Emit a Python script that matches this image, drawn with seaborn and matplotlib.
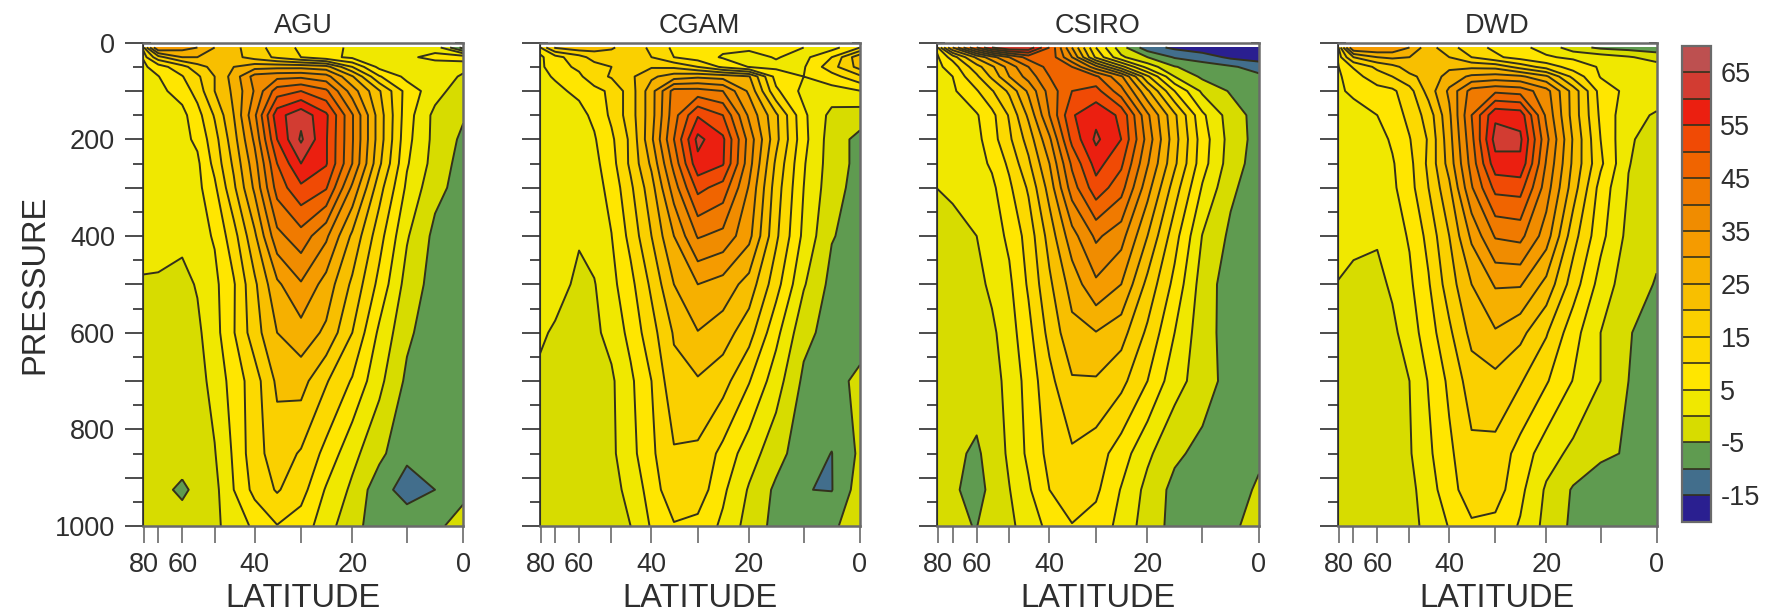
import numpy as np
import matplotlib
matplotlib.use("Agg")
import matplotlib.pyplot as plt
import seaborn as sns

sns.set_style("ticks")
plt.rcParams["font.family"] = ["Liberation Sans", "DejaVu Sans"]
plt.rcParams["axes.unicode_minus"] = False

ink = "#2e2e2e"
frame = "#6a6a6a"
line_col = "#33311c"

lats = [0, 5, 10, 15, 20, 25, 30, 35, 40, 45, 50, 55, 60, 70, 82]
pressures = [10, 30, 50, 70, 100, 150, 200, 250, 300, 400, 500, 600, 700, 850, 925, 1000]
levels = list(range(-20, 75, 5))
colors = ["#2a1f90", "#426e8c", "#5f9b50", "#d7dc00", "#f0e800", "#ffe600", "#fcd900",
          "#fad000", "#f8bf00", "#f6b000", "#f59b00", "#f08c00", "#f07a00", "#f06400",
          "#f04a05", "#eb1f10", "#d23c32", "#bd5050"]

panel_names = ["AGU", "CGAM", "CSIRO", "DWD"]
panel_lefts = [142.7, 539.6, 937.0, 1338.0]
panel_rights = [463.3, 860.0, 1259.0, 1656.6]

agu = [
    [-12, 3, 3.5, 4, 4.5, 6, 9, 13, 17, 21.5, 25, 30, 32, 35, 10],
    [8, 6.5, 4, 3.5, 4, 6.5, 10, 14, 18, 21.5, 23, 25, 25, 18, 5],
    [1, 2, 2.5, 3.5, 15, 27, 28.5, 28.5, 28, 25, 21.5, 18, 13, 7.5, 3],
    [-0.5, 2, 3.5, 10.5, 25.5, 37, 39, 38.5, 37, 27, 20, 14, 9.7, 4.8, 4],
    [-3, 2, 8, 20.5, 32.5, 46, 50, 47.5, 35.5, 26, 20, 12, 7, 3.5, 3.5],
    [-4.5, -1.4, 7.2, 22.5, 40.5, 56, 63.5, 58, 39, 25, 15.5, 8, 3.5, 3.5, 3],
    [-6, -1.5, 6.5, 22.5, 40.5, 55.5, 65.8, 55, 36, 23, 13, 6, 3.5, 3.5, 3.5],
    [-7, -2, 5.5, 21, 40, 55.5, 60, 50, 33, 21, 11.5, 4, 2.5, 3, 3],
    [-7, -3.5, 4, 17, 34, 50.5, 54, 47, 31, 19, 9, 3.5, 1.5, 2.5, 3],
    [-8, -6.3, 0.5, 12, 24, 36, 43, 38.5, 24, 13, 5.5, 3, 1.2, 1.5, 2],
    [-7.5, -7, -2, 8.5, 19, 28, 34.5, 29, 19, 9.5, 3.7, 0.4, -1.5, -0.5, -0.5],
    [-8, -8, -4, 4, 15, 24, 28, 25, 17.7, 9.7, 3, -1, -2.5, -3, -2.5],
    [-8, -8, -6, 1.3, 9.5, 15.5, 22, 21, 12.7, 7, 1.7, -2, -3, -3, -2.5],
    [-7.5, -9, -9, -3.7, 1.5, 8.5, 14.5, 17.5, 13, 5.7, -0.3, -2, -3, -3, -2.5],
    [-6, -10, -12, -8, -1, 4.5, 12, 15.5, 11.5, 5, -1.5, -4, -5.8, -3.5, -3],
    [-3.5, -5.8, -7, -6.5, -4, 2.5, 7.5, 9.8, 6, 2, -1, -2.5, -3, -3, -2.5],
]

cgam = [
    [10, 3, 5, 5.5, 5.8, 6, 7, 9, 14, 18, 20.5, 22, 23, 20.5, 8],
    [24, 10, 3.5, 5.3, 3.5, 4.5, 7.5, 10, 15, 16.5, 18, 17, 13, 8, 3],
    [22, 13, 4.5, 4, 4.8, 9, 15, 19, 19.5, 18, 15, 13, 11, 7.5, 3],
    [14, 8, 5, 8, 25.5, 28, 29, 27.5, 24, 19, 15.5, 13, 9, 5.5, 3],
    [4.8, 3, 3.5, 11, 29, 40, 42, 42, 28, 17.5, 11, 8.4, 6, 3.8, 3],
    [-2.5, -1.5, 6, 21, 34, 50, 54.5, 43, 28, 17.5, 11, 6, 3.5, 3, 3],
    [-6.5, -2.5, 6.5, 21.5, 38, 56, 61.5, 45, 29, 16, 9, 4.5, 2.5, 2.5, 3],
    [-6.5, -2.5, 5.5, 19, 37, 55.5, 58.5, 41.7, 26, 16, 8, 3.5, 2, 2, 3],
    [-7, -3, 5, 17.5, 34.5, 48, 51.5, 37.5, 23, 14, 6.5, 3, 2, 2, 3],
    [-7, -4.7, 3.8, 16, 31.5, 38.5, 40.5, 30, 20, 11.5, 4.9, 2, 0.3, 1.8, 2.5],
    [-7, -6.5, 0.5, 12, 23, 28, 30, 25, 16, 8.5, 3.5, -0.3, -0.7, 1.5, 2.5],
    [-7, -7, -3.5, 6.5, 17, 22.5, 24.8, 20.5, 13, 6.5, 1.5, -1, -1.5, -0.5, 1],
    [-4, -6.5, -6, 2.3, 10.3, 17, 19.5, 18.5, 10, 4, -0.8, -2.5, -2.8, -2, -1],
    [-4, -10.1, -8, -3, 2.3, 8.5, 14, 14.5, 9, 3.2, -1, -2.8, -3, -3, -3],
    [-2.5, -10.2, -9.9, -6, -0.5, 6, 13, 14, 7, 1.7, -2, -3, -3.5, -3, -3],
    [-3.5, -5.5, -7, -6.5, -2, 4, 8.5, 9.5, 5.5, 0, -2.5, -3, -3, -3, -3],
]

csiro = [
    [-19.5, -19, -18, -16, -13, -3, 10, 30, 50, 64, 65, 60, 50, 30, 6],
    [-17.5, -16, -12.5, -10.5, -5, 1, 14, 35, 49, 47, 40, 33, 26, 12, 3],
    [-12, -9.3, -7.5, -4.7, 3, 17, 32, 45, 47, 40, 32, 24, 18, 7, 3],
    [-9, -8, -6, 0, 16, 36, 46, 47, 45, 37, 30, 21, 14, 5, 3],
    [-8, -5.5, -1, 10, 26, 42, 52, 50, 42, 31, 21, 14.5, 9.5, 4, 3],
    [-7, -2.5, 6, 21, 36, 54, 58.5, 54.5, 40, 26, 15.5, 8.5, 4.5, 3.5, 3],
    [-7, -2, 7.5, 22, 38, 55, 61, 51.5, 34, 22, 14, 7.8, 3.5, 3, 2],
    [-7.5, -2.5, 7, 21, 35.5, 51, 57, 46, 30, 19, 11, 5.8, 3, 2.5, 1.5],
    [-8, -4, 4.5, 17.5, 32, 47, 53, 42.5, 27, 15.7, 9, 3.8, 1.5, 0.5, 0],
    [-8, -6, -0.2, 12, 25, 37, 41, 33, 22, 12, 6, 2.5, 0, -1, -1],
    [-8, -7.5, -2.3, 8.5, 18.5, 30, 34, 27, 19, 10.7, 4, 1, -1.5, -2, -1],
    [-8, -7, -3, 5, 14, 22, 24.8, 23.5, 16.5, 8.5, 2.7, -1, -2.5, -2, -2],
    [-7.5, -7, -2.5, 2, 10, 16.5, 19.5, 19.5, 13.5, 7, 1.3, -1.7, -3.5, -3, -3],
    [-6, -7, -6.5, -4, 1, 7.5, 12.5, 14.3, 11.5, 6, 1, -3.8, -5.5, -4.2, -4],
    [-4.2, -7.5, -8, -6.5, -1.5, 4.7, 11, 13.5, 10, 4.3, -0.2, -4.3, -6, -4.5, -4],
    [-3, -6, -7, -6.5, -2.5, 3.5, 8, 9.7, 6.5, 2, -1, -3, -5.1, -4.5, -4],
]

dwd = [
    [-8, -7, -6, -3, 3.5, 6, 9, 12, 17, 22, 30, 34, 35, 35, 6],
    [-2, 0.5, 2.5, 4.2, 5.5, 8, 11, 15, 20, 22.5, 25, 26, 25, 20, 5],
    [2, 3, 4.5, 7.7, 13, 18, 23.5, 24, 24, 23.5, 22, 18.5, 16, 10.5, 4],
    [3.5, 3.5, 4.7, 13.5, 26, 31, 32, 31, 27, 21.5, 19, 15, 13, 7.5, 3.5],
    [2.5, 3.5, 8, 23, 37, 43, 44, 42, 31, 22, 13, 9, 8, 5.7, 4],
    [-0.5, 1.5, 9, 23, 39, 58, 59, 45, 29, 17, 11.5, 7, 5, 3.5, 3],
    [-2, 0.6, 10, 24.5, 41.5, 61, 62, 43.5, 28, 15.5, 9.7, 5.7, 3, 3, 3],
    [-2.5, 0.2, 11, 24, 39.5, 59, 58, 42, 27, 16, 8.5, 4.5, 3, 3, 3],
    [-3, -0.3, 8, 22.5, 37.5, 52, 51.5, 39.5, 24, 15, 8, 4, 2, 2, 3],
    [-4, -1.5, 6.5, 17, 32.5, 41.5, 40.5, 31, 20, 11.5, 5.5, 2.5, 0.6, 1, 1.5],
    [-5.3, -3, 3, 12.5, 23.5, 30.5, 30.5, 25, 17.5, 9.5, 4, 0.8, -1.5, -1, -0.1],
    [-7, -4.7, 0, 7, 15.5, 21.5, 24.5, 21.5, 14, 7.5, 2.5, -1.2, -2, -2, -1.5],
    [-8, -5, 0, 4.8, 10.5, 15.5, 18.5, 17.5, 11, 5.3, 0, -2, -3, -3, -2.5],
    [-5.5, -5.5, -4, -1.3, 2.3, 8, 13.5, 13.8, 9, 4, -0.5, -2, -3, -3, -3],
    [-7, -7.5, -8, -5.5, -0.7, 6.3, 12.5, 13.5, 7.5, 3, -1.7, -2.5, -3, -3, -3],
    [-6.5, -7, -7.5, -6, -1.5, 4.5, 8.5, 9, 5.3, 1.3, -1.5, -2.5, -3, -3, -3],
]
panel_data = [agu, cgam, csiro, dwd]

x_ticks = [80, 70, 60, 50, 40, 30, 20, 10, 0]
x_labels = ["80", "", "60", "", "40", "", "20", "", "0"]
y_ticks = list(range(0, 1100, 100))
y_labels = ["0", "", "200", "", "400", "", "600", "", "800", "", "1000"]
y_minor = [50, 150, 250, 350, 450, 550, 650, 750, 850, 950]
y_minor_inner = y_minor + [70, 925]
bar_ticks = [65, 55, 45, 35, 25, 15, 5, -5, -15]

W, H = 1781, 613
top_px, bottom_px = 42.7, 526.0


def sin_lat(x):
    return np.sin(np.radians(np.clip(x, -90, 90)))


def arcsin_lat(x):
    return np.degrees(np.arcsin(np.clip(x, -1, 1)))


fig = plt.figure(figsize=(W / 100, H / 100), dpi=100)
for i, name in enumerate(panel_names):
    rect = [panel_lefts[i] / W, 1 - bottom_px / H,
            (panel_rights[i] - panel_lefts[i]) / W, (bottom_px - top_px) / H]
    ax = fig.add_axes(rect)
    ax.set_xscale("function", functions=(sin_lat, arcsin_lat))
    values = np.array(panel_data[i])
    cf = ax.contourf(lats, pressures, values, levels=levels, colors=colors)
    ax.contour(lats, pressures, values, levels=levels, colors=line_col,
               linewidths=1.4, linestyles="solid")
    ax.set_xlim(81, 0)
    ax.set_ylim(1000, 0)

    # inner ticks on both sides, outer ones on the left come from a second axis
    ax.set_yticks(y_ticks)
    ax.set_yticks(y_minor_inner, minor=True)
    ax.tick_params(axis="y", which="both", left=True, right=True, direction="in",
                   length=6, width=1.2, color=ink, labelleft=False)
    ax.set_xticks(x_ticks)
    ax.set_xticklabels(x_labels)
    ax.xaxis.set_minor_locator(matplotlib.ticker.NullLocator())
    ax.tick_params(axis="x", direction="out", length=12, width=1.2, color=frame,
                   labelsize=19.5, labelcolor=ink, pad=7)
    ax.set_xlabel("LATITUDE", fontsize=23.5, color=ink, labelpad=3)
    ax.set_title(name, fontsize=19.5, color=ink, pad=7)

    sec = ax.secondary_yaxis("left")
    sec.set_yticks(y_ticks)
    sec.set_yticks(y_minor, minor=True)
    sec.tick_params(axis="y", which="major", direction="out", length=13, width=1.2,
                    color=ink, labelsize=19.5, labelcolor=ink, pad=7)
    sec.tick_params(axis="y", which="minor", direction="out", length=7, width=1.2, color=ink)
    sec.set_yticklabels(y_labels if i == 0 else [""] * len(y_labels))
    sec.spines["left"].set_color(ink)
    sec.spines["left"].set_linewidth(1.2)

    for side in ["top", "right", "bottom"]:
        ax.spines[side].set_color(frame)
        ax.spines[side].set_linewidth(1.8)
    ax.spines["left"].set_color(ink)
    if i == 0:
        ax.set_ylabel("PRESSURE", fontsize=23.5, color=ink)
        ax.yaxis.set_label_coords((50 - panel_lefts[0]) / (panel_rights[0] - panel_lefts[0]), 0.5)

cax = fig.add_axes([1681.7 / W, 1 - 521.7 / H, 29 / W, 475.7 / H])
bar = fig.colorbar(cf, cax=cax, ticks=bar_ticks, drawedges=True)
bar.dividers.set_color(line_col)
bar.dividers.set_linewidth(1.2)
bar.outline.set_edgecolor(frame)
bar.outline.set_linewidth(1.6)
bar.ax.tick_params(length=0, labelsize=19.5, labelcolor=ink, pad=7)
bar.ax.minorticks_off()

fig.savefig("out.png", dpi=100)
